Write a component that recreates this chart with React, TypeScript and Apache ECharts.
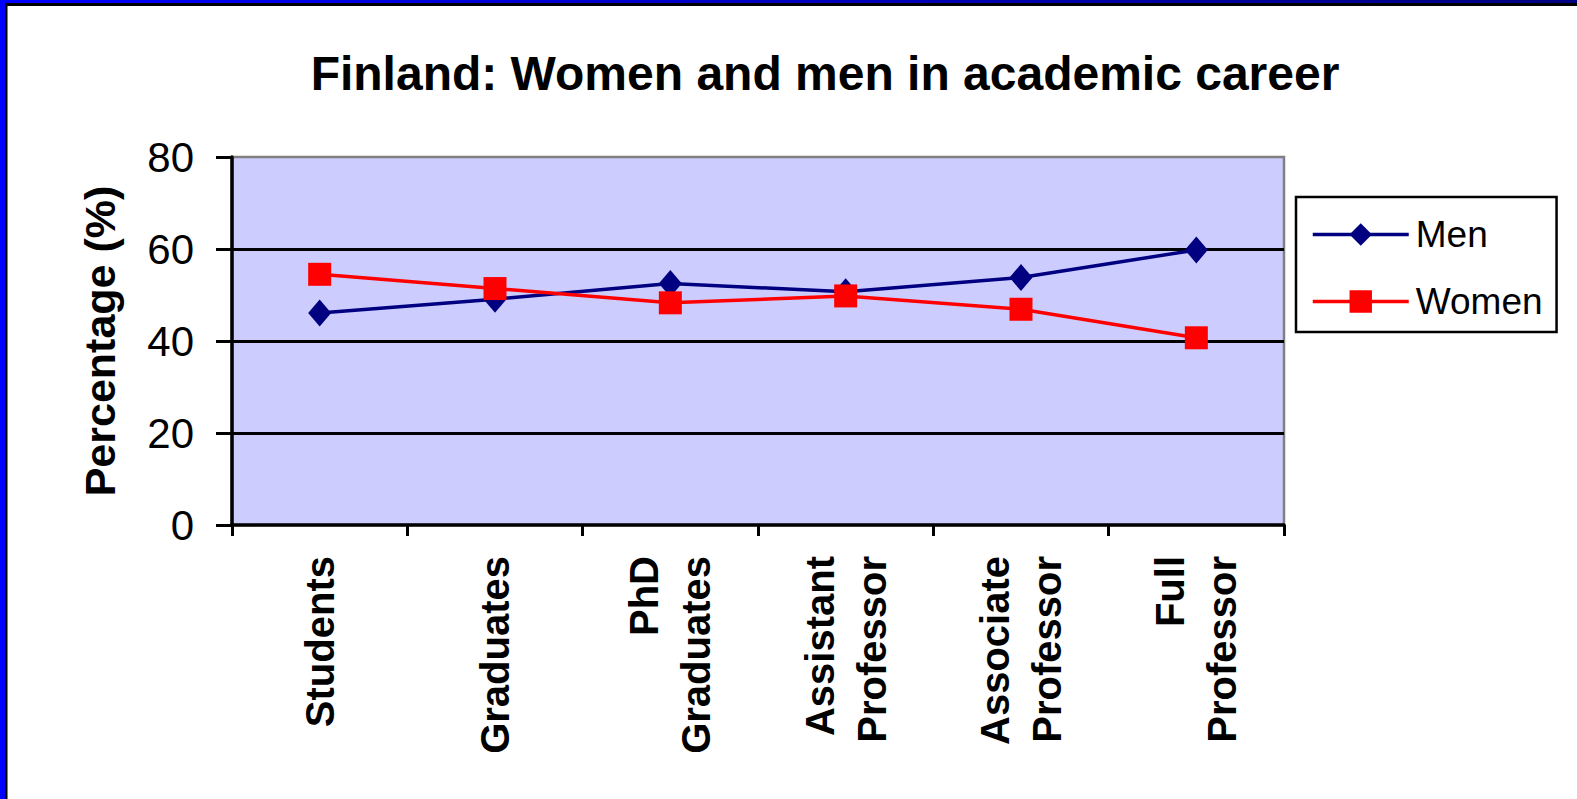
import React, { useEffect, useRef } from "react";
import * as echarts from "echarts";

const categories = [
  "Students",
  "Graduates",
  "PhD\nGraduates",
  "Assistant\nProfessor",
  "Associate\nProfessor",
  "Full\nProfessor",
];
const menValues = [46.1, 49.1, 52.5, 50.7, 53.8, 59.8];
const womenValues = [54.5, 51.4, 48.3, 49.8, 46.9, 40.7];
const titleText = "Finland: Women and men in academic career";
const yAxisName = "Percentage (%)";

const FONT = "'Liberation Sans', Arial, Helvetica, sans-serif";

export default function App() {
  const ref = useRef<HTMLDivElement>(null);
  useEffect(() => {
    if (!ref.current) return;
    const chart = echarts.init(ref.current, null, { renderer: "svg" });
    chart.setOption({
      animation: false,
      backgroundColor: "#ffffff",
      title: {
        text: titleText,
        left: 820,
        top: 44,
        textAlign: "center",
        textStyle: { fontFamily: FONT, fontSize: 48, fontWeight: "bold", color: "#000" },
      },
      legend: {
        orient: "vertical",
        left: 1296,
        top: 197,
        padding: [19, 14, 12, 15],
        itemGap: 30,
        itemWidth: 96,
        itemHeight: 28,
        borderColor: "#000",
        borderWidth: 2.5,
        backgroundColor: "#fff",
        lineStyle: { width: 3.5 },
        textStyle: { fontFamily: FONT, fontSize: 37, color: "#000", padding: [0, 0, 0, 2] },
        data: ["Men", "Women"],
      },
      grid: {
        left: 232,
        top: 157,
        right: 293,
        bottom: 274,
        show: true,
        backgroundColor: "#CCCCFF",
        borderColor: "#808080",
        borderWidth: 2.5,
        containLabel: false,
      },
      xAxis: {
        type: "category",
        data: categories,
        boundaryGap: true,
        axisLine: { show: true, lineStyle: { color: "#000", width: 3.5 } },
        axisTick: { show: true, length: 11, lineStyle: { color: "#000", width: 3 } },
        axisLabel: {
          rotate: 90,
          margin: 31,
          interval: 0,
          fontFamily: FONT,
          fontSize: 40,
          fontWeight: "bold",
          lineHeight: 52,
          color: "#000",
        },
        splitLine: { show: false },
      },
      yAxis: {
        type: "value",
        min: 0,
        max: 80,
        interval: 20,
        name: yAxisName,
        nameLocation: "middle",
        nameGap: 111,
        nameTextStyle: { fontFamily: FONT, fontSize: 43, fontWeight: "bold", color: "#000" },
        axisLine: { show: true, lineStyle: { color: "#000", width: 3.5 } },
        axisTick: { show: true, length: 16, lineStyle: { color: "#000", width: 3 } },
        axisLabel: { margin: 38, fontFamily: FONT, fontSize: 42, color: "#000" },
        splitLine: {
          show: true,
          showMinLine: false,
          showMaxLine: false,
          lineStyle: { color: "#000", width: 3 },
        },
      },
      series: [
        {
          name: "Men",
          type: "line",
          data: menValues,
          symbol: "diamond",
          symbolSize: [23, 27],
          lineStyle: { color: "#000080", width: 3.5 },
          itemStyle: { color: "#000080" },
        },
        {
          name: "Women",
          type: "line",
          data: womenValues,
          symbol: "rect",
          symbolSize: [23, 23],
          lineStyle: { color: "#FF0000", width: 3.5 },
          itemStyle: { color: "#FF0000" },
        },
      ],
      graphic: [
        {
          type: "rect",
          shape: { x: 0, y: 0, width: 1577, height: 3 },
          style: {
            fill: new echarts.graphic.LinearGradient(0, 0, 1, 0, [
              { offset: 0, color: "#0000FF" },
              { offset: 1, color: "#000080" },
            ]),
          },
          z: 100,
        },
        { type: "rect", shape: { x: 0, y: 0, width: 5, height: 799 }, style: { fill: "#0000FF" }, z: 100 },
        { type: "rect", shape: { x: 5, y: 3, width: 2.5, height: 796 }, style: { fill: "#000" }, z: 100 },
        { type: "rect", shape: { x: 5, y: 3, width: 1572, height: 3 }, style: { fill: "#000" }, z: 100 },
      ],
    });
    return () => chart.dispose();
  }, []);
  return (
    <div
      ref={ref}
      style={{ position: "absolute", left: 0, top: 0, width: 1577, height: 799 }}
    />
  );
}
